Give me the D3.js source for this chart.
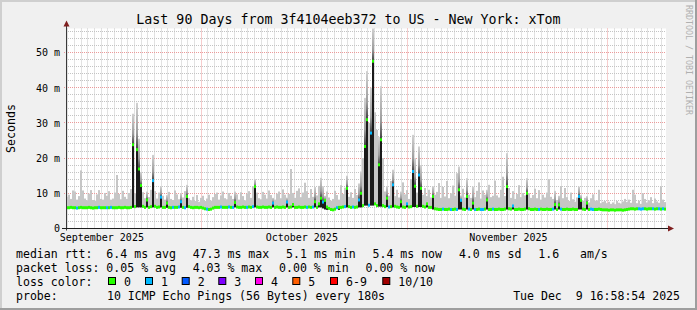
<!DOCTYPE html>
<html><head><meta charset="utf-8">
<script src="https://cdn.jsdelivr.net/npm/d3@7"></script>
<style>
html,body{margin:0;padding:0;background:#f0f0f0;}
svg{display:block;}
text{font-family:"DejaVu Sans Mono",monospace;white-space:pre;}
</style>
</head><body>
<svg id="c" width="697" height="310"></svg>
<script>
// ---------------- data ----------------
const titleText = "Last 90 Days from 3f4104eeb372 to US - New York: xTom";
const yAxisTitle = "Seconds";
const watermark = "RRDTOOL / TOBI OETIKER";
const yTickValues = [0, 10, 20, 30, 40, 50];
const yTickLabels = ["0", "10 m", "20 m", "30 m", "40 m", "50 m"];
const monthLabels = ["September 2025", "October 2025", "November 2025"];
const monthLabelDays = ["2025-09-16", "2025-10-16", "2025-11-16"];
const lossCategories = ["0", "1", "2", "3", "4", "5", "6-9", "10/10"];
const lossColors = ["#26ff00", "#00b8ff", "#0059ff", "#7e00ff", "#ff00ea", "#ff5e00", "#ff0000", "#a10000"];

// one value per 7.2 h bin (300 bins over 90 days), milliseconds
const medianMs = [
5.9,5.9,6.0,5.9,5.9,5.8,5.9,6.0,5.9,5.9,5.9,6.0,5.9,5.8,5.9,5.9,6.0,5.9,5.9,5.9,
5.9,5.9,6.0,5.9,5.9,5.9,6.0,5.9,5.9,6.0,5.9,5.9,6.0,23.8,6.2,22.4,16.9,12.2,6.3,6.0,
8.1,6.0,6.2,13.6,6.3,6.0,6.1,8.9,6.0,6.0,7.2,6.0,5.9,6.0,6.0,6.0,6.1,7.6,6.0,5.9,
9.1,6.2,6.0,5.9,6.0,6.0,5.9,6.0,5.8,5.6,5.5,5.4,5.5,5.8,6.0,6.0,6.0,6.1,6.0,6.0,
6.0,6.1,6.0,6.0,7.4,6.1,6.0,6.0,6.1,6.0,6.0,6.1,6.0,6.2,11.9,6.1,6.0,6.0,6.1,6.0,
6.0,6.1,6.0,7.2,6.0,6.1,6.0,6.0,6.1,6.0,7.5,6.0,6.1,6.8,6.0,6.0,6.1,6.0,6.0,6.1,
6.0,6.1,6.0,6.1,7.6,6.0,7.0,8.6,7.5,8.0,6.1,5.7,5.4,5.3,5.5,5.9,6.0,6.0,6.1,6.2,
11.4,6.2,6.0,6.1,6.0,6.1,8.1,10.0,6.5,23.3,30.9,6.6,27.1,47.5,7.0,6.5,18.1,25.2,6.5,6.2,
8.6,6.1,6.2,12.4,6.3,6.1,6.0,7.6,6.1,6.0,7.0,6.1,6.2,16.2,12.0,6.3,15.2,11.4,6.3,6.1,
7.0,6.0,6.0,9.1,5.6,5.5,5.4,5.4,5.5,5.4,5.4,5.5,5.4,5.4,5.5,5.4,11.0,8.0,5.5,5.4,
9.1,5.5,5.4,7.2,5.4,5.4,5.5,5.4,5.4,5.5,8.1,5.4,5.4,5.5,5.4,5.4,5.5,5.4,5.4,5.5,
11.9,5.6,5.5,6.4,5.4,5.4,5.5,5.4,5.4,5.5,10.0,5.6,5.4,5.4,5.5,5.4,5.4,5.5,5.4,5.4,
5.5,5.4,5.4,5.5,6.8,5.4,6.7,5.5,5.4,5.4,5.5,5.4,5.4,5.5,5.4,5.4,9.1,8.0,5.5,5.4,
7.2,5.4,5.5,5.4,5.4,5.4,5.5,5.4,5.3,5.3,5.3,5.2,5.3,5.3,5.2,5.3,5.3,5.3,5.2,5.3,
5.4,5.5,5.6,5.6,5.5,5.6,5.6,5.5,5.6,5.6,5.5,5.6,5.6,5.6,5.5,5.6,5.6,5.5,5.6,5.5
];
const smokeTopMs = [
9.0,9.6,8.4,10.8,10.5,8.2,9.2,16.5,10.8,8.5,8.0,9.9,10.9,8.1,7.9,9.7,10.9,8.4,8.2,10.1,
9.3,10.6,8.2,8.5,10.2,15.2,9.8,8.3,10.7,9.0,8.4,10.1,11.2,32.6,10.0,35.7,25.5,16.0,10.3,8.6,
10.5,8.9,11.0,20.9,10.6,8.5,10.2,11.9,9.3,8.2,9.5,10.4,8.4,8.1,10.8,9.7,8.3,10.0,8.8,10.6,
12.4,8.6,8.0,9.0,7.8,9.5,7.6,8.7,9.3,7.8,8.5,9.6,7.9,8.9,9.8,10.2,8.2,9.4,10.5,8.6,
8.3,10.1,9.3,8.4,10.5,9.7,8.2,10.3,9.2,8.0,9.9,10.6,8.7,12.0,14.0,10.2,8.6,8.3,10.4,9.6,
8.5,10.8,9.5,8.7,8.2,9.9,10.5,8.6,11.1,9.6,8.8,9.8,16.9,10.1,8.7,10.7,11.4,8.9,10.2,13.0,
10.6,8.7,11.2,9.0,11.8,9.4,12.1,14.4,12.0,9.3,10.5,8.8,7.9,8.4,10.7,9.5,8.2,12.3,9.8,11.6,
15.0,9.0,10.3,8.7,11.2,9.5,12.8,16.2,20.0,37.1,44.7,30.0,40.0,57.0,33.0,28.0,26.0,40.4,20.0,10.5,
12.0,9.3,13.5,16.7,9.2,11.0,8.8,10.5,13.1,9.7,10.9,8.4,14.0,26.6,20.0,10.2,23.3,18.0,9.6,11.5,
9.2,11.0,8.8,12.0,9.6,10.4,12.9,8.7,11.8,9.1,13.5,8.6,10.0,12.2,9.3,15.7,17.6,9.4,11.3,8.8,
14.3,9.6,8.7,11.9,8.9,10.7,13.1,8.5,10.8,9.6,11.0,12.4,8.9,9.3,13.6,9.4,8.8,11.0,14.7,9.2,
21.4,11.5,8.7,10.6,8.4,9.8,12.3,8.9,10.1,9.4,14.3,10.0,8.7,9.5,11.3,8.6,10.9,8.2,9.6,8.8,
10.2,14.0,9.0,8.4,10.7,8.1,9.3,12.0,8.6,11.5,8.9,7.8,10.2,8.3,7.6,8.8,11.9,9.5,7.9,8.7,
9.2,7.4,8.6,9.7,7.9,8.0,11.0,7.2,7.6,7.8,7.2,7.6,7.0,7.4,6.9,7.8,7.3,7.1,7.7,8.4,
7.5,8.2,7.3,11.0,9.6,7.2,7.9,7.0,10.0,8.4,7.4,8.0,8.9,7.2,8.5,7.7,7.3,11.9,8.2,7.5
];
// bins whose median was measured with 1 lost ping (all others: 0 lost)
const lossOneBins = [5,16,20,22,43,47,53,56,57,59,70,77,81,83,90,93,103,110,120,123,128,135,139,143,146,151,152,
  161,163,170,173,176,188,192,195,197,201,204,207,208,213,223,236,243,247,256,262,263,286,287,288,293,296,298];

const rttLegend = ["median rtt:  6.4 ms avg", "47.3 ms max", "5.1 ms min", "5.4 ms now", "4.0 ms sd", "1.6", "am/s"];
const lossLegend = ["packet loss: 0.05 % avg", "4.03 % max", "0.00 % min", "0.00 % now"];
const probeText = "10 ICMP Echo Pings (56 Bytes) every 180s";
const stampText = "Tue Dec  9 16:58:54 2025";

// ---------------- layout ----------------
const W = 697, H = 310;
const X0 = 66, X1 = 666, YTOP = 28.5, YBOT = 228.5;
const startT = new Date(2025, 8, 10, 16, 58, 54);
const endT = new Date(2025, 11, 9, 16, 58, 54);
const binMs = (endT - startT) / medianMs.length;

const x = d3.scaleTime().domain([startT, endT]).range([X0, X1]);
const y = d3.scaleLinear().domain([0, 56.8]).range([YBOT, YTOP]);
const crisp = v => Math.round(v - 0.5) + 0.5;

const svg = d3.select("#c");
const defs = svg.append("defs");
const grad = defs.append("linearGradient").attr("id", "smokeGrad")
  .attr("x1", 0).attr("y1", 1).attr("x2", 0).attr("y2", 0);
grad.append("stop").attr("offset", 0).attr("stop-color", "#3c3c3c");
grad.append("stop").attr("offset", 0.35).attr("stop-color", "#9c9c9c");
grad.append("stop").attr("offset", 1).attr("stop-color", "#d2d2d2");
defs.append("clipPath").attr("id", "plotClip").append("rect")
  .attr("x", X0).attr("y", YTOP).attr("width", X1 - X0).attr("height", YBOT - YTOP);

// background + 3D frame
svg.append("rect").attr("width", W).attr("height", H).attr("fill", "#f0f0f0");
svg.append("rect").attr("x", 0).attr("y", 0).attr("width", W).attr("height", 2).attr("fill", "#cfcfcf");
svg.append("rect").attr("x", 0).attr("y", 0).attr("width", 2).attr("height", H).attr("fill", "#cfcfcf");
svg.append("rect").attr("x", 0).attr("y", H - 2).attr("width", W).attr("height", 2).attr("fill", "#9e9e9e");
svg.append("rect").attr("x", W - 2).attr("y", 0).attr("width", 2).attr("height", H).attr("fill", "#9e9e9e");

// canvas
svg.append("rect").attr("x", X0).attr("y", YTOP).attr("width", X1 - X0).attr("height", YBOT - YTOP).attr("fill", "#ffffff");

// grid
const grid = svg.append("g");
const minorY = d3.range(2, 57, 2).filter(v => v % 10 !== 0);
const majorY = yTickValues.filter(v => v > 0);
const days = d3.timeDay.range(d3.timeDay.ceil(startT), endT);
const months = d3.timeMonth.range(d3.timeMonth.ceil(startT), endT);
const minorDays = days.filter(d => d.getDate() !== 1);
grid.selectAll("line.hmin").data(minorY).join("line")
  .attr("x1", X0).attr("x2", X1).attr("y1", d => crisp(y(d))).attr("y2", d => crisp(y(d)))
  .attr("stroke", "#c4c4c4").attr("stroke-dasharray", "1,1");
grid.selectAll("line.vmin").data(minorDays).join("line")
  .attr("x1", d => crisp(x(d))).attr("x2", d => crisp(x(d))).attr("y1", YTOP).attr("y2", YBOT)
  .attr("stroke", "#c4c4c4").attr("stroke-dasharray", "1,1");
grid.selectAll("line.hmaj").data(majorY).join("line")
  .attr("x1", X0 - 2).attr("x2", X1).attr("y1", d => crisp(y(d))).attr("y2", d => crisp(y(d)))
  .attr("stroke", "#ec9a9a").attr("stroke-dasharray", "1,1");
grid.selectAll("line.vmaj").data(months).join("line")
  .attr("x1", d => crisp(x(d))).attr("x2", d => crisp(x(d))).attr("y1", YTOP).attr("y2", YBOT + 2)
  .attr("stroke", "#ec9a9a").attr("stroke-dasharray", "1,1");

// data
const lossSet = new Set(lossOneBins);
const bins = medianMs.map((m, i) => {
  const t0 = new Date(+startT + i * binMs), t1 = new Date(+startT + (i + 1) * binMs);
  const near = medianMs.slice(Math.max(0, i - 3), i + 4);
  return { i, t0, t1, med: m, top: smokeTopMs[i], lo: Math.min(...near), loss: lossSet.has(i) ? 1 : 0 };
});
const plot = svg.append("g").attr("clip-path", "url(#plotClip)");
plot.selectAll("rect.smoke").data(bins).join("rect")
  .attr("x", d => x(d.t0)).attr("width", d => x(d.t1) - x(d.t0))
  .attr("y", d => y(d.top)).attr("height", d => Math.max(0, y(d.med) - y(d.top)))
  .attr("fill", d => (d.med - d.lo > 1.0 ? "url(#smokeGrad)" : "#c6c6c6"));
plot.selectAll("rect.core").data(bins.filter(d => d.med - d.lo > 0.7)).join("rect")
  .attr("x", d => x(d.t0)).attr("width", d => x(d.t1) - x(d.t0))
  .attr("y", d => y(d.med)).attr("height", d => y(d.lo) - y(d.med))
  .attr("fill", "#1a1a1a");
plot.selectAll("rect.med").data(bins).join("rect")
  .attr("x", d => x(d.t0)).attr("width", d => x(d.t1) - x(d.t0))
  .attr("y", d => y(d.med) - 1.5).attr("height", 3)
  .attr("fill", d => lossColors[d.loss]);

// axes
const yAxis = d3.axisLeft(y).tickValues(yTickValues).tickFormat((d, i) => yTickLabels[i]).tickSize(0).tickPadding(6);
const gy = svg.append("g").attr("transform", `translate(${X0},0)`).call(yAxis);
gy.select(".domain").remove();
gy.selectAll("text").attr("font-family", "DejaVu Sans Mono").attr("font-size", "10px").attr("fill", "#000").attr("dy", "0.34em");

const labelDates = monthLabelDays.map(s => d3.timeParse("%Y-%m-%d")(s));
const xAxis = d3.axisBottom(x).tickValues(labelDates).tickFormat((d, i) => monthLabels[i]).tickSize(0).tickPadding(5.5);
const gx = svg.append("g").attr("transform", `translate(0,${YBOT})`).call(xAxis);
gx.select(".domain").remove();
gx.selectAll("text").attr("font-family", "DejaVu Sans Mono").attr("font-size", "10px").attr("fill", "#000");

// axis lines & arrows
svg.append("line").attr("x1", X0 + 0.5).attr("x2", X0 + 0.5).attr("y1", YBOT + 2).attr("y2", 24).attr("stroke", "#3a3a3a");
svg.append("line").attr("x1", X0 - 4).attr("x2", X1 + 3).attr("y1", YBOT).attr("y2", YBOT).attr("stroke", "#1f1f1f");
svg.append("path").attr("d", `M${X0 + 0.5},20.5 L${X0 + 3.5},26.5 L${X0 - 2.5},26.5 Z`).attr("fill", "#7f1f1f");
svg.append("path").attr("d", `M${X1 + 8},${YBOT} L${X1 + 2},${YBOT - 3} L${X1 + 2},${YBOT + 3} Z`).attr("fill", "#7f1f1f");

// title and labels
svg.append("text").attr("x", W / 2).attr("y", 24).attr("text-anchor", "middle")
  .attr("font-size", "13.3px").attr("fill", "#000").text(titleText);
svg.append("text").attr("transform", `translate(15,${(YTOP + YBOT) / 2}) rotate(-90)`).attr("text-anchor", "middle")
  .attr("font-size", "11.6px").attr("fill", "#000").text(yAxisTitle);
svg.append("text").attr("transform", "translate(685.5,5) rotate(90)").attr("text-anchor", "start")
  .attr("font-size", "8.3px").attr("fill", "#b0b0b0").text(watermark);

// legend
const LF = "11.55px";
const rttX = [16, 192.7, 286.1, 372.5, 458.9, 538.3, 580];
svg.append("g").selectAll("text").data(rttLegend).join("text")
  .attr("x", (d, i) => rttX[i]).attr("y", 257.7).attr("font-size", LF).text(d => d);
const lossX = [16, 192.7, 279.1, 365.5];
svg.append("g").selectAll("text").data(lossLegend).join("text")
  .attr("x", (d, i) => lossX[i]).attr("y", 271.9).attr("font-size", LF).text(d => d);
svg.append("text").attr("x", 16).attr("y", 286).attr("font-size", LF).text("loss color:");
const swX = [108, 145, 181.7, 218.3, 255, 292.3, 330, 382.3];
const sw = svg.append("g").selectAll("g").data(lossCategories).join("g");
sw.append("rect").attr("x", (d, i) => swX[i] + 0.5).attr("y", 277.5).attr("width", 7).attr("height", 7)
  .attr("fill", (d, i) => lossColors[i]).attr("stroke", "#000");
sw.append("text").attr("x", (d, i) => swX[i] + 16).attr("y", 286).attr("font-size", LF).text(d => d);
svg.append("text").attr("x", 16).attr("y", 300.2).attr("font-size", LF).text("probe:");
svg.append("text").attr("x", 107).attr("y", 300.2).attr("font-size", LF).text(probeText);
svg.append("text").attr("x", 680).attr("y", 300.2).attr("text-anchor", "end").attr("font-size", LF).text(stampText);
</script>
</body></html>
